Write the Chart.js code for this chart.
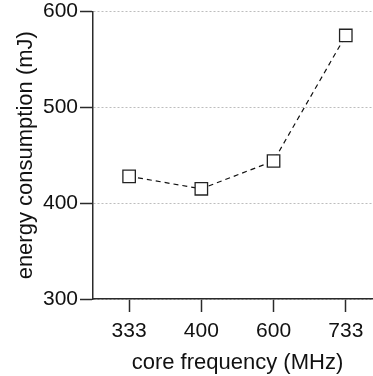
<!DOCTYPE html>
<html>
<head>
<meta charset="utf-8">
<script src="https://cdn.jsdelivr.net/npm/chart.js@4.4.1/dist/chart.umd.min.js"></script>
<style>
  html, body { margin: 0; padding: 0; background: #fff; overflow: hidden; }
  canvas { display: block; }
</style>
</head>
<body>
<!-- canvas mais largo que a janela: o eixo x continua além da borda direita -->
<canvas id="graficoEnergia" width="392" height="376"></canvas>
<script>
// frequências do núcleo e consumo de energia medido
const frequencias = ['333', '400', '600', '733'];
const energia = [428, 415, 444, 575];
const marcasY = [300, 400, 500, 600];

const fonte = "'Liberation Sans', Arial, Helvetica, sans-serif";
const corEixo = '#2a2a2a';

const ctx = document.getElementById('graficoEnergia').getContext('2d');

new Chart(ctx, {
  type: 'line',
  data: {
    labels: frequencias,
    datasets: [{
      label: 'energia',
      data: energia,
      borderColor: '#111',
      borderWidth: 1.2,
      borderDash: [5, 4],
      tension: 0,
      fill: false,
      pointStyle: 'rect',
      pointRadius: 8.8,
      pointHoverRadius: 8.8,
      pointBorderWidth: 1.3,
      pointBorderColor: '#222',
      pointBackgroundColor: '#fff'
    }]
  },
  options: {
    responsive: false,
    animation: false,
    layout: { padding: { top: 11.5, right: 0, bottom: 0, left: 0 } },
    plugins: {
      legend: { display: false },
      tooltip: { enabled: false }
    },
    scales: {
      x: {
        type: 'category',
        offset: true,
        grid: {
          offset: false,
          drawOnChartArea: false,
          drawTicks: true,
          tickLength: 13,
          tickColor: corEixo,
          tickWidth: 1.5
        },
        border: { display: true, color: corEixo, width: 1.5 },
        ticks: {
          color: '#111',
          padding: 8,
          font: { family: fonte, size: 21, lineHeight: 1.1 }
        },
        title: {
          display: true,
          text: 'core frequency (MHz)',
          color: '#111',
          padding: { top: 0, bottom: 0 },
          font: { family: fonte, size: 22 }
        },
        afterFit: function(scale) {
          scale.height = 77;
          scale.paddingLeft = 0;
          scale.paddingRight = 0;
        }
      },
      y: {
        min: marcasY[0],
        max: marcasY[marcasY.length - 1],
        afterBuildTicks: function(scale) {
          scale.ticks = marcasY.map(v => ({ value: v }));
        },
        grid: {
          color: '#bdbdbd',
          lineWidth: 1,
          drawTicks: true,
          tickLength: 13,
          tickColor: corEixo,
          tickWidth: 1.5,
          tickBorderDash: []
        },
        border: { display: true, color: corEixo, width: 1.5, dash: [2, 2] },
        ticks: {
          color: '#111',
          padding: 2,
          font: { family: fonte, size: 21, lineHeight: 1.1 }
        },
        title: {
          display: true,
          text: 'energy consumption (mJ)',
          color: '#111',
          padding: { top: 13, bottom: 0 },
          font: { family: fonte, size: 22 }
        },
        afterFit: function(scale) {
          scale.width = 93;
          scale.paddingTop = 0;
          scale.paddingBottom = 0;
        }
      }
    }
  }
});
</script>
</body>
</html>
